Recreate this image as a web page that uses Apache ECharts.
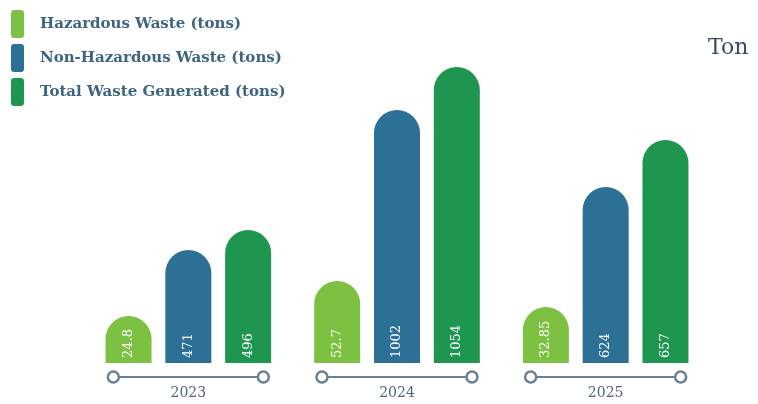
<!DOCTYPE html>
<html>
<head>
<meta charset="utf-8">
<script src="https://cdn.jsdelivr.net/npm/echarts@6/dist/echarts.min.js"></script>
<style>
  html, body { margin: 0; padding: 0; background: #fff; }
  #chart { width: 758px; height: 404px; }
</style>
</head>
<body>
<div id="chart"></div>
<script>
// years on the x axis
let years = ['2023', '2024', '2025'];

// values printed on the bars (tons)
let hazardous = ['24.8', '52.7', '32.85'];
let nonHazardous = ['471', '1002', '624'];
let totalWaste = ['496', '1054', '657'];

// the bars in the picture are not drawn to scale, so these are the heights as drawn
let hazardousHeight = [47, 82, 56];
let nonHazardousHeight = [113, 253, 176];
let totalWasteHeight = [133, 296, 223];

let serif = '"DejaVu Serif", serif';

function barLabel(values) {
    return {
        show: true,
        position: 'insideBottom',
        rotate: 90,
        align: 'left',
        verticalAlign: 'middle',
        distance: 5,
        color: '#ffffff',
        fontFamily: serif,
        fontSize: 13,
        formatter: function (p) {
            return values[p.dataIndex];
        }
    };
}

let option = {
    backgroundColor: '#ffffff',
    animation: false,
    title: {
        text: 'Ton',
        left: 703,
        top: 32,
        textStyle: {
            fontFamily: serif,
            fontWeight: 'normal',
            fontSize: 22,
            color: '#3c4b5a'
        }
    },
    legend: {
        orient: 'vertical',
        left: 6,
        top: 5,
        icon: 'roundRect',
        itemWidth: 13,
        itemHeight: 28,
        itemGap: 6,
        data: ['Hazardous Waste (tons)', 'Non-Hazardous Waste (tons)', 'Total Waste Generated (tons)'],
        textStyle: {
            fontFamily: serif,
            fontSize: 15,
            fontWeight: 'bold',
            color: '#3d6580',
            padding: [0, 0, 0, 11]
        }
    },
    grid: {
        left: 84,
        right: 48,
        top: 67,
        bottom: 41
    },
    xAxis: {
        type: 'category',
        data: years,
        axisLine: { show: false },
        axisTick: { show: false },
        axisLabel: {
            margin: 23,
            fontFamily: serif,
            fontSize: 14,
            color: '#4b677c'
        }
    },
    yAxis: {
        type: 'value',
        min: 0,
        max: 296,
        show: false,
        splitLine: { show: false }
    },
    series: [
        {
            name: 'Hazardous Waste (tons)',
            type: 'bar',
            data: hazardousHeight,
            barWidth: 46,
            barGap: '30%',
            itemStyle: { color: '#7cc142', borderRadius: [23, 23, 0, 0] },
            label: barLabel(hazardous)
        },
        {
            name: 'Non-Hazardous Waste (tons)',
            type: 'bar',
            data: nonHazardousHeight,
            barWidth: 46,
            barGap: '30%',
            itemStyle: { color: '#2c7095', borderRadius: [23, 23, 0, 0] },
            label: barLabel(nonHazardous)
        },
        {
            name: 'Total Waste Generated (tons)',
            type: 'bar',
            data: totalWasteHeight,
            barWidth: 46,
            barGap: '30%',
            itemStyle: { color: '#1f9650', borderRadius: [23, 23, 0, 0] },
            label: barLabel(totalWaste)
        },
        {
            // the little bracket with circles under each year
            type: 'custom',
            clip: false,
            silent: true,
            data: years.map(function (y, i) { return [i, 0]; }),
            renderItem: function (params, api) {
                let p = api.coord([api.value(0), 0]);
                let half = 75;
                let y = p[1] + 14;
                let stroke = '#6a8193';
                return {
                    type: 'group',
                    children: [
                        { type: 'line', shape: { x1: p[0] - half, y1: y, x2: p[0] + half, y2: y }, style: { stroke: stroke, lineWidth: 2 } },
                        { type: 'circle', shape: { cx: p[0] - half, cy: y, r: 5.5 }, style: { fill: '#ffffff', stroke: stroke, lineWidth: 2.5 } },
                        { type: 'circle', shape: { cx: p[0] + half, cy: y, r: 5.5 }, style: { fill: '#ffffff', stroke: stroke, lineWidth: 2.5 } }
                    ]
                };
            }
        }
    ]
};

let chart = echarts.init(document.getElementById('chart'));
chart.setOption(option);
</script>
</body>
</html>
